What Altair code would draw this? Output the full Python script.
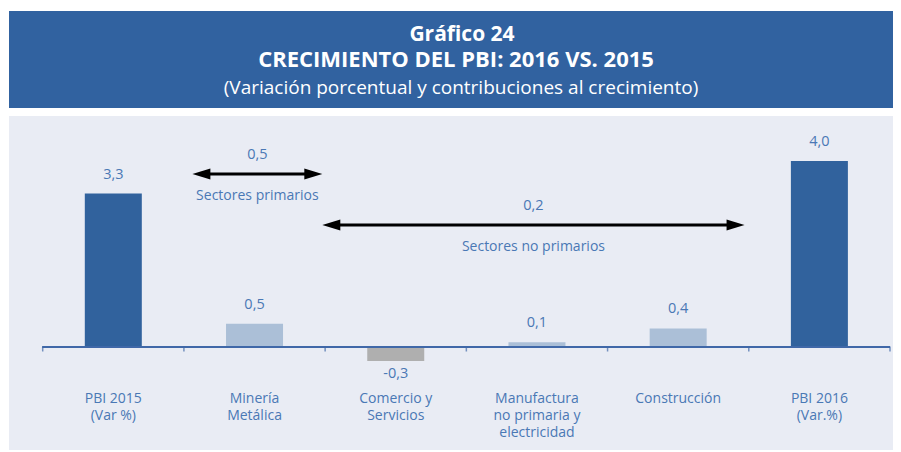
import altair as alt
import pandas as pd

# ---------------- data ----------------
CATEGORIES = [
    "PBI 2015\n(Var %)",
    "Minería\nMetálica",
    "Comercio y\nServicios",
    "Manufactura\nno primaria y\nelectricidad",
    "Construcción",
    "PBI 2016\n(Var.%)",
]
VALUES = [3.3, 0.5, -0.3, 0.1, 0.4, 4.0]
IS_TOTAL = [True, False, False, False, False, True]

GROUP_NAMES = ["Sectores primarios", "Sectores no primarios"]
GROUP_VALUES = [0.5, 0.2]

TITLE = "Gráfico 24"
HEADLINE = "CRECIMIENTO DEL PBI: 2016 VS. 2015"
SUBTITLE = "(Variación porcentual y contribuciones al crecimiento)"

# ---------------- layout / style ----------------
BANNER = "#3162A0"
PANEL = "#E9ECF4"
DARK = "#31629D"
LIGHT = "#ABBFD7"
GRAY = "#AFAFAF"
TEXT = "#4A78B5"
AXIS = "#4169A8"
FONT = "Open Sans"

# arrow spans in category-index units and vertical pixel positions (annotation layout)
ARROW_SPANS = [(0.56, 1.48), (1.48, 4.47)]
ARROW_Y = [58, 109]

LEFT_HEAD = "M0,0L2,-0.62L2,0.62Z"
RIGHT_HEAD = "M0,0L-2,-0.62L-2,0.62Z"


def fmt(v):
    return f"{v:.1f}".replace(".", ",")


idx = list(range(len(CATEGORIES)))
bars_df = pd.DataFrame({
    "cat": CATEGORIES,
    "idx": idx,
    "value": VALUES,
    "kind": ["total" if t else ("neg" if v < 0 else "pos") for t, v in zip(IS_TOTAL, VALUES)],
    "label": [fmt(v) for v in VALUES],
})
edges = [i - 0.5 for i in range(len(CATEGORIES) + 1)]
edges_df = pd.DataFrame({"edge": edges})

xscale = alt.Scale(domain=[edges[0], edges[-1]], range=[33.7, 881],
                   nice=False, zero=False, padding=0)
yscale = alt.Scale(domain=[-2.215, 4.968], nice=False, zero=False, padding=0)

base = alt.Chart(bars_df)

bars = base.mark_bar(size=57).encode(
    x=alt.X("idx:Q", scale=xscale, axis=None),
    y=alt.Y("value:Q", scale=yscale, axis=None),
    y2=alt.datum(0),
    color=alt.Color("kind:N", scale=alt.Scale(domain=["total", "pos", "neg"],
                                              range=[DARK, LIGHT, GRAY]), legend=None),
)

zero_line = alt.Chart(edges_df).mark_rule(color=AXIS, strokeWidth=1.5).encode(
    x=alt.datum(edges[0]),
    x2=alt.datum(edges[-1]),
    y=alt.datum(0),
)

ticks = alt.Chart(edges_df).mark_tick(orient="vertical", size=5, thickness=1.5,
                                      color=AXIS, yOffset=2).encode(
    x=alt.X("edge:Q", scale=xscale, axis=None),
    y=alt.datum(0),
)

pos_labels = base.transform_filter("datum.value >= 0").mark_text(
    baseline="alphabetic", dy=-15, fontSize=14.5, color=TEXT
).encode(x=alt.X("idx:Q", scale=xscale, axis=None),
         y=alt.Y("value:Q", scale=yscale, axis=None), text="label:N")

neg_labels = base.transform_filter("datum.value < 0").mark_text(
    baseline="top", dy=6, fontSize=14.5, color=TEXT
).encode(x=alt.X("idx:Q", scale=xscale, axis=None),
         y=alt.Y("value:Q", scale=yscale, axis=None), text="label:N")

cat_labels = base.mark_text(baseline="top", lineBreak="\n", lineHeight=17,
                            fontSize=14, color=TEXT).encode(
    x=alt.X("idx:Q", scale=xscale, axis=None),
    y=alt.value(276),
    text="cat:N",
)

arrow_layers = []
for name, val, (x0, x1), ypx in zip(GROUP_NAMES, GROUP_VALUES, ARROW_SPANS, ARROW_Y):
    gdf = pd.DataFrame({"name": [name], "val": [fmt(val)]})
    g = alt.Chart(gdf)
    arrow_layers.append(
        g.mark_rule(color="black", strokeWidth=3, xOffset=8, x2Offset=-8).encode(
            x=alt.datum(x0), x2=alt.datum(x1), y=alt.value(ypx))
    )
    arrow_layers.append(
        g.mark_point(shape=LEFT_HEAD, size=324, filled=True, color="black",
                     opacity=1, strokeWidth=0).encode(x=alt.datum(x0), y=alt.value(ypx))
    )
    arrow_layers.append(
        g.mark_point(shape=RIGHT_HEAD, size=324, filled=True, color="black",
                     opacity=1, strokeWidth=0).encode(x=alt.datum(x1), y=alt.value(ypx))
    )
    arrow_layers.append(
        g.mark_text(baseline="middle", fontSize=14.5, color=TEXT).encode(
            x=alt.datum((x0 + x1) / 2), y=alt.value(ypx - 19), text="val:N")
    )
    arrow_layers.append(
        g.mark_text(baseline="middle", fontSize=14, color=TEXT).encode(
            x=alt.datum((x0 + x1) / 2), y=alt.value(ypx + 22), text="name:N")
    )

main = alt.layer(bars, zero_line, ticks, pos_labels, neg_labels, cat_labels,
                 *arrow_layers).properties(
    width=884, height=334, view=alt.ViewBackground(fill=PANEL, strokeWidth=0)
)

t1 = alt.Chart(pd.DataFrame({"t": [TITLE]})).mark_text(
    fontSize=21, fontWeight="bold", color="white", baseline="middle"
).encode(text="t:N", x=alt.value(453), y=alt.value(24))
t2 = alt.Chart(pd.DataFrame({"t": [HEADLINE]})).mark_text(
    fontSize=22, fontWeight="bold", color="white", baseline="middle"
).encode(text="t:N", x=alt.value(447), y=alt.value(49))
t3 = alt.Chart(pd.DataFrame({"t": [SUBTITLE]})).mark_text(
    fontSize=19, color="white", baseline="middle"
).encode(text="t:N", x=alt.value(452), y=alt.value(77))

banner = alt.layer(t1, t2, t3).properties(
    width=884, height=97, view=alt.ViewBackground(fill=BANNER, strokeWidth=0)
)

chart = alt.vconcat(banner, main, spacing=8).configure(
    padding={"left": 1, "top": 3, "right": 0, "bottom": 0},
    font=FONT,
).configure_view(strokeWidth=0).configure_axis(disable=True)

chart.save("out.html", embed_options={"renderer": "svg", "actions": False})
